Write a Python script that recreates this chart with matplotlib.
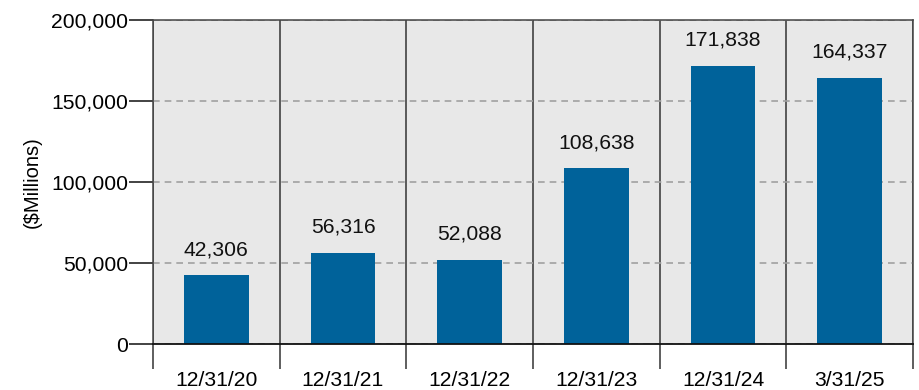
import numpy as np
import matplotlib.pyplot as plt
from matplotlib.ticker import FuncFormatter

plt.rcParams['font.family'] = ['Liberation Sans', 'DejaVu Sans']

periods = ['12/31/20', '12/31/21', '12/31/22', '12/31/23', '12/31/24', '3/31/25']
values = [42306, 56316, 52088, 108638, 171838, 164337]

fig = plt.figure(figsize=(9.2, 3.9), dpi=100)
ax = fig.add_axes([0.1663, 0.1179, 0.8261, 0.8308])
ax.set_facecolor('#e8e8e8')

x = np.arange(len(periods))
ax.bar(x, values, width=0.51, color='#00629a', zorder=3)

for xi, v in zip(x, values):
    ax.annotate(f'{v:,}', (xi, v), xytext=(0, 11.5), textcoords='offset points',
                ha='center', va='bottom', fontsize=15.2, color='#111111')

ax.set_xlim(-0.5, len(periods) - 0.5)
ax.set_ylim(0, 200000)

# y axis
ax.set_yticks([0, 50000, 100000, 150000, 200000])
ax.yaxis.set_major_formatter(FuncFormatter(lambda v, p: f'{int(v):,}'))
ax.tick_params(axis='y', length=17, width=1.2, color='#222222', labelsize=15.2, pad=1)
ax.yaxis.grid(True, linestyle=(0, (4, 3)), color='#a0a0a0', linewidth=1.2, zorder=1)
ax.set_ylabel('($Millions)', fontsize=14.5, labelpad=7)

# x axis: separator lines at category edges, labels at centres
ax.set_xticks(np.arange(-0.5, len(periods)), labels=[''] * (len(periods) + 1))
ax.set_xticks(x, labels=periods, minor=True)
ax.tick_params(axis='x', which='major', length=18, width=1.1, color='#333333')
ax.tick_params(axis='x', which='minor', length=0, labelsize=15.2, pad=19.5)
ax.xaxis.grid(True, which='major', color='#333333', linewidth=1.1, zorder=2)

for side in ['top', 'right', 'left']:
    ax.spines[side].set_color('#444444')
    ax.spines[side].set_linewidth(1.1)
ax.spines['bottom'].set_color('#111111')
ax.spines['bottom'].set_linewidth(1.3)
ax.spines['bottom'].set_zorder(4)

fig.savefig('out.png', dpi=100)
